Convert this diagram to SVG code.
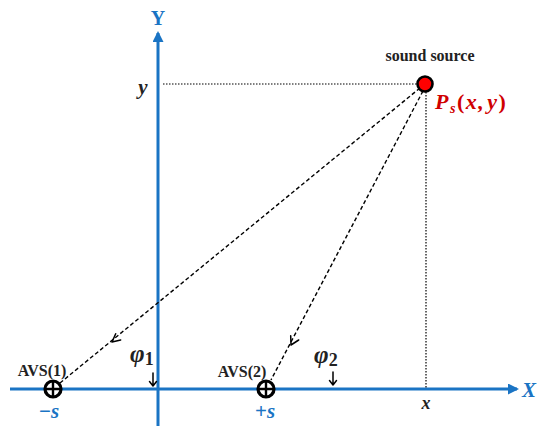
<svg xmlns="http://www.w3.org/2000/svg" width="537" height="426" viewBox="0 0 537 426">
<style>
.axis{stroke:#1a74c4;stroke-width:3;fill:none}
.dash{stroke:#000;stroke-width:1.4;stroke-dasharray:4 2.5;fill:none}
.dot{stroke:#000;stroke-width:1.2;stroke-dasharray:1.5 1.5;fill:none}
.chev{stroke:#000;stroke-width:1.5;fill:none;stroke-linecap:round;stroke-linejoin:round}
text{font-family:"Liberation Serif","Times New Roman",serif;font-weight:bold;fill:#222}
.it{font-style:italic}
.blue{fill:#1a74c4}
</style>
<defs>
<marker id="ax" markerWidth="11" markerHeight="11" refX="9" refY="5.5" orient="auto" markerUnits="userSpaceOnUse">
<path d="M0,0 L11,5.5 L0,11 Z" fill="#1a74c4"/>
</marker>
<g id="avs">
<circle r="8" fill="#fff" stroke="#000" stroke-width="3.2"/>
<path d="M-8,0 H8 M0,-8 V8" stroke="#000" stroke-width="2.4"/>
</g>
</defs>
<g id="axes">
<line class="axis" x1="10" y1="389" x2="517" y2="389" marker-end="url(#ax)"/>
<line class="axis" x1="158" y1="426" x2="158" y2="33" marker-end="url(#ax)"/>
<text class="blue" x="158" y="25" font-size="20" text-anchor="middle">Y</text>
<text class="blue it" x="529" y="397" font-size="21" text-anchor="middle">X</text>
</g>
<g id="connectors">
<line class="dot" x1="163" y1="84" x2="417" y2="84"/>
<line class="dot" x1="426" y1="92" x2="426" y2="388"/>
<line class="dash" x1="420" y1="88" x2="60" y2="383"/>
<line class="dash" x1="423" y1="91" x2="271" y2="380"/>
<path class="chev" d="M120.7,340 L112,342 L115.7,333.8"/>
<path class="chev" d="M298.7,340 L291,345 L290.7,335.8"/>
<path class="chev" d="M153,373 V386 M149.5,381.5 L153,386 L156.5,381.5"/>
<path class="chev" d="M333,372 V385 M329.5,380.5 L333,385 L336.5,380.5"/>
</g>
<g id="source">
<circle cx="425" cy="84" r="7.5" fill="#ff0000" stroke="#000" stroke-width="2.6"/>
<text x="430" y="61" font-size="16" text-anchor="middle">sound source</text>
<text class="it" x="435" y="109" font-size="22" style="fill:#d00000" letter-spacing="1.5">P<tspan font-size="14" dy="4">s</tspan><tspan dy="-4" font-style="normal">(</tspan>x,<tspan dx="2">y</tspan><tspan font-style="normal">)</tspan></text>
</g>
<g id="avs1">
<use href="#avs" x="53" y="389"/>
<text x="42" y="376" font-size="16" text-anchor="middle">AVS(1)</text>
<text class="blue" x="49" y="418" font-size="21" text-anchor="middle">−<tspan class="it">s</tspan></text>
</g>
<g id="avs2">
<use href="#avs" x="266" y="389"/>
<text x="242" y="377" font-size="16" text-anchor="middle">AVS(2)</text>
<text class="blue" x="265" y="418" font-size="21" text-anchor="middle">+<tspan class="it">s</tspan></text>
</g>
<g id="labels">
<text class="it" x="143" y="94" font-size="21" text-anchor="middle">y</text>
<text class="it" x="426" y="409" font-size="18" text-anchor="middle">x</text>
<text class="it" x="130" y="362" font-size="25">φ<tspan font-style="normal" font-size="18" dy="3">1</tspan></text>
<text class="it" x="314" y="363" font-size="25">φ<tspan font-style="normal" font-size="18" dy="3">2</tspan></text>
</g>
</svg>
